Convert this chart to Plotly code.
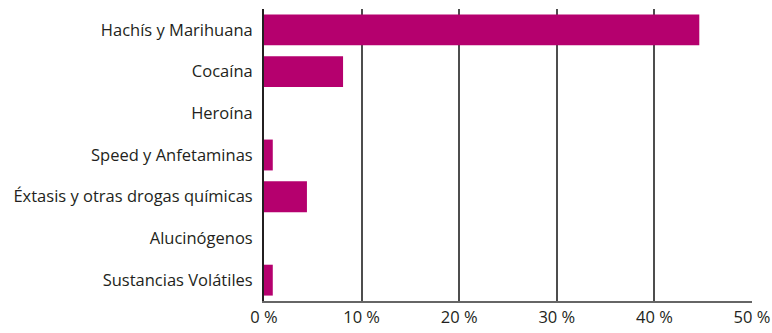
import plotly.graph_objects as go

categories = ["Hachís y Marihuana", "Cocaína", "Heroína", "Speed y Anfetaminas",
              "Éxtasis y otras drogas químicas", "Alucinógenos", "Sustancias Volátiles"]
values = [44.6, 8.1, 0, 0.9, 4.4, 0, 0.9]
tick_vals = [0, 10, 20, 30, 40, 50]
tick_text = ["0 %", "10 %", "20 %", "30 %", "40 %", "50 %"]

fig = go.Figure(go.Bar(
    x=values, y=categories, orientation="h",
    marker=dict(color="#b5006e", line=dict(width=0)),
    width=0.74,
))

fig.update_layout(
    width=772, height=333,
    margin=dict(l=264, r=20, t=9, b=32),
    paper_bgcolor="white", plot_bgcolor="white",
    font=dict(family="Open Sans", size=16.5, color="#231f20"),
    showlegend=False,
    bargap=0.26,
)
fig.update_xaxes(
    range=[0, 50], tickvals=tick_vals, ticktext=tick_text,
    showgrid=True, gridcolor="#4d4d4d", gridwidth=2,
    showline=True, linecolor="#666666", linewidth=2,
    ticks="", zeroline=False, ticklabelstandoff=0, automargin=False,
)
fig.update_yaxes(
    categoryorder="array", categoryarray=categories, autorange="reversed",
    showline=True, linecolor="#231f20", linewidth=2,
    showgrid=False, ticks="", ticklabelstandoff=6, automargin=False,
)
fig.write_html("out.html", config={"displayModeBar": False},
               post_script="document.body.style.margin='0';")
